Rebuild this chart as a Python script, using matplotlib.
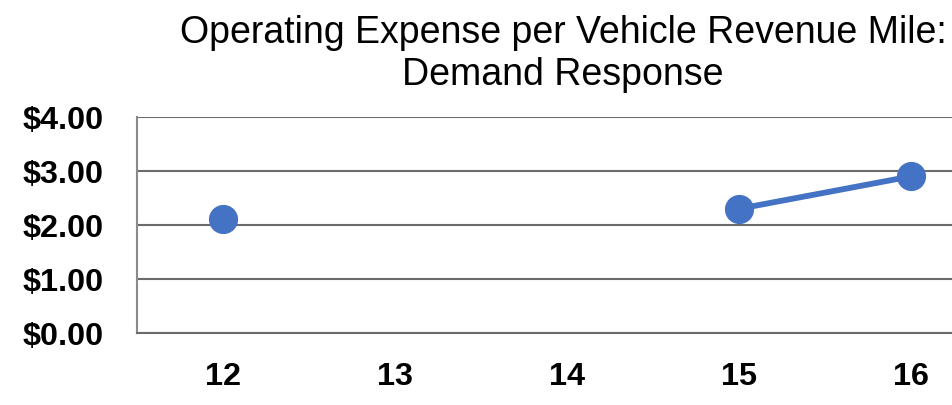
import numpy as np
import matplotlib
matplotlib.use("Agg")
import matplotlib.pyplot as plt

years = ["12", "13", "14", "15", "16"]
values = [2.12, np.nan, np.nan, 2.30, 2.90]
ytick_vals = [0, 1, 2, 3, 4]
ytick_labels = ["$0.00", "$1.00", "$2.00", "$3.00", "$4.00"]
title_lines = ["Operating Expense per Vehicle Revenue Mile:", "Demand Response"]

plt.rcParams['font.family'] = ['Liberation Sans', 'DejaVu Sans']

fig = plt.figure(figsize=(9.52, 4.05), dpi=100)
W, H = 952, 405
left, right, top, bottom = 137, 997, 117, 333
ax = fig.add_axes([left / W, (H - bottom) / H, (right - left) / W, (bottom - top) / H])

x = np.arange(len(years))
ax.plot(x, values, color='#4472C4', lw=4.2, marker='o', markersize=20,
        solid_capstyle='round', zorder=3)

ax.set_xlim(-0.5, len(years) - 0.5)
ax.set_ylim(0, 4)
ax.set_yticks(ytick_vals)
ax.set_yticklabels(ytick_labels, fontsize=23.3, fontweight='bold')
ax.set_xticks(x)
ax.set_xticklabels(years, fontsize=23.3, fontweight='bold')
ax.tick_params(axis='y', length=0, pad=24)
ax.tick_params(axis='x', length=0, pad=21)
ax.yaxis.grid(True, color='#6b6b6b', lw=1.5)
ax.set_axisbelow(True)
for s in ['top', 'right']:
    ax.spines[s].set_visible(False)
ax.spines['left'].set_color('#8a8a8a')
ax.spines['left'].set_linewidth(1.5)
ax.spines['bottom'].set_color('#6b6b6b')
ax.spines['bottom'].set_linewidth(1.5)

for line, yb in zip(title_lines, [43, 85]):
    fig.text(563 / W, 1 - yb / H, line, ha='center', va='baseline', fontsize=27)

fig.savefig("out.png", dpi=100)
